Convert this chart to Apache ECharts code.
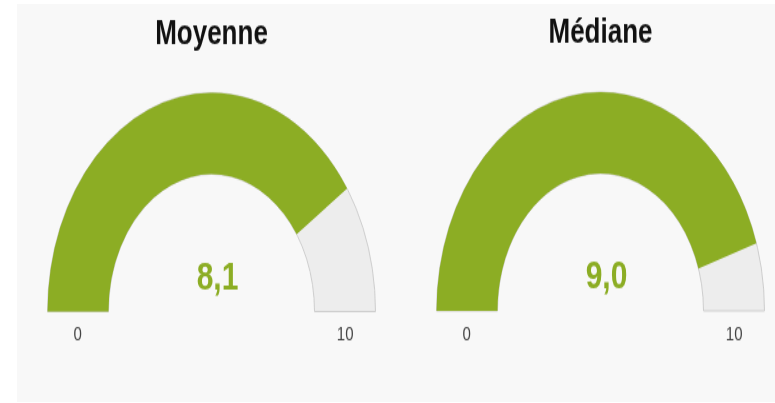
<!DOCTYPE html>
<html>
<head>
<meta charset="utf-8">
<script src="https://cdn.jsdelivr.net/npm/echarts@6/dist/echarts.min.js"></script>
<style>
  html, body {margin: 0; padding: 0; background: #fff; overflow: hidden;}
  .panel {position: absolute; left: 17px; top: 4px; width: 758px; height: 398px; background: #f8f8f8;}
  /* the reference gauges are stretched vertically, so the whole chart is too */
  #chart {position: absolute; left: 0; top: 0; width: 775px; height: 302px;
    transform: scaleY(1.3344); transform-origin: 0 0;}
</style>
</head>
<body>
<div class="panel"></div>
<div id="chart"></div>
<script>
const titles = ['Moyenne', 'Médiane'];
const values = [8.1, 9.0];
const gaugeMin = 0;
const gaugeMax = 10;

const centers = [[211.5, 233.5], [600.5, 233]];
const green = '#8cad24';

const base = (i) => ({
  type: 'gauge',
  center: centers[i],
  radius: 164,
  startAngle: 180,
  endAngle: 0,
  min: gaugeMin,
  max: gaugeMax,
  splitNumber: 1,
  silent: true,
  animation: false,
  axisLine: {show: false},
  pointer: {show: false},
  anchor: {show: false},
  axisTick: {show: false},
  splitLine: {show: false, length: 0, distance: 0}
});

const series = [];
titles.forEach((name, i) => {
  // grey track with thin border
  series.push(Object.assign(base(i), {
    z: 1,
    progress: {show: true, width: 61, itemStyle: {color: '#ededed', borderColor: '#cdcdcd', borderWidth: 1}},
    axisLabel: {show: false},
    title: {show: false},
    detail: {show: false},
    data: [{value: gaugeMax}]
  }));
  // value arc, labels, title
  series.push(Object.assign(base(i), {
    z: 2,
    progress: {show: true, width: 61, itemStyle: {color: green}},
    axisLabel: {
      show: true,
      distance: 0,
      color: '#444',
      fontSize: 15,
      lineHeight: 35,
      fontFamily: 'Liberation Sans, Arial, sans-serif',
      padding: [0, 22, 0, 26],
      formatter: (v) => '\n' + v
    },
    title: {
      show: true,
      offsetCenter: [0, -208],
      color: '#111',
      fontSize: 26,
      fontWeight: 'bold',
      fontFamily: 'Liberation Sans, Arial, sans-serif'
    },
    detail: {
      show: true,
      offsetCenter: [6, -25],
      color: green,
      fontSize: 30,
      fontWeight: 'bold',
      fontFamily: 'Liberation Sans, Arial, sans-serif',
      formatter: (v) => v.toFixed(1).replace('.', ',')
    },
    data: [{value: values[i], name: name}]
  }));
});

const myChart = echarts.init(document.getElementById('chart'));
myChart.setOption({
  backgroundColor: 'transparent',
  series: series
});
</script>
</body>
</html>
